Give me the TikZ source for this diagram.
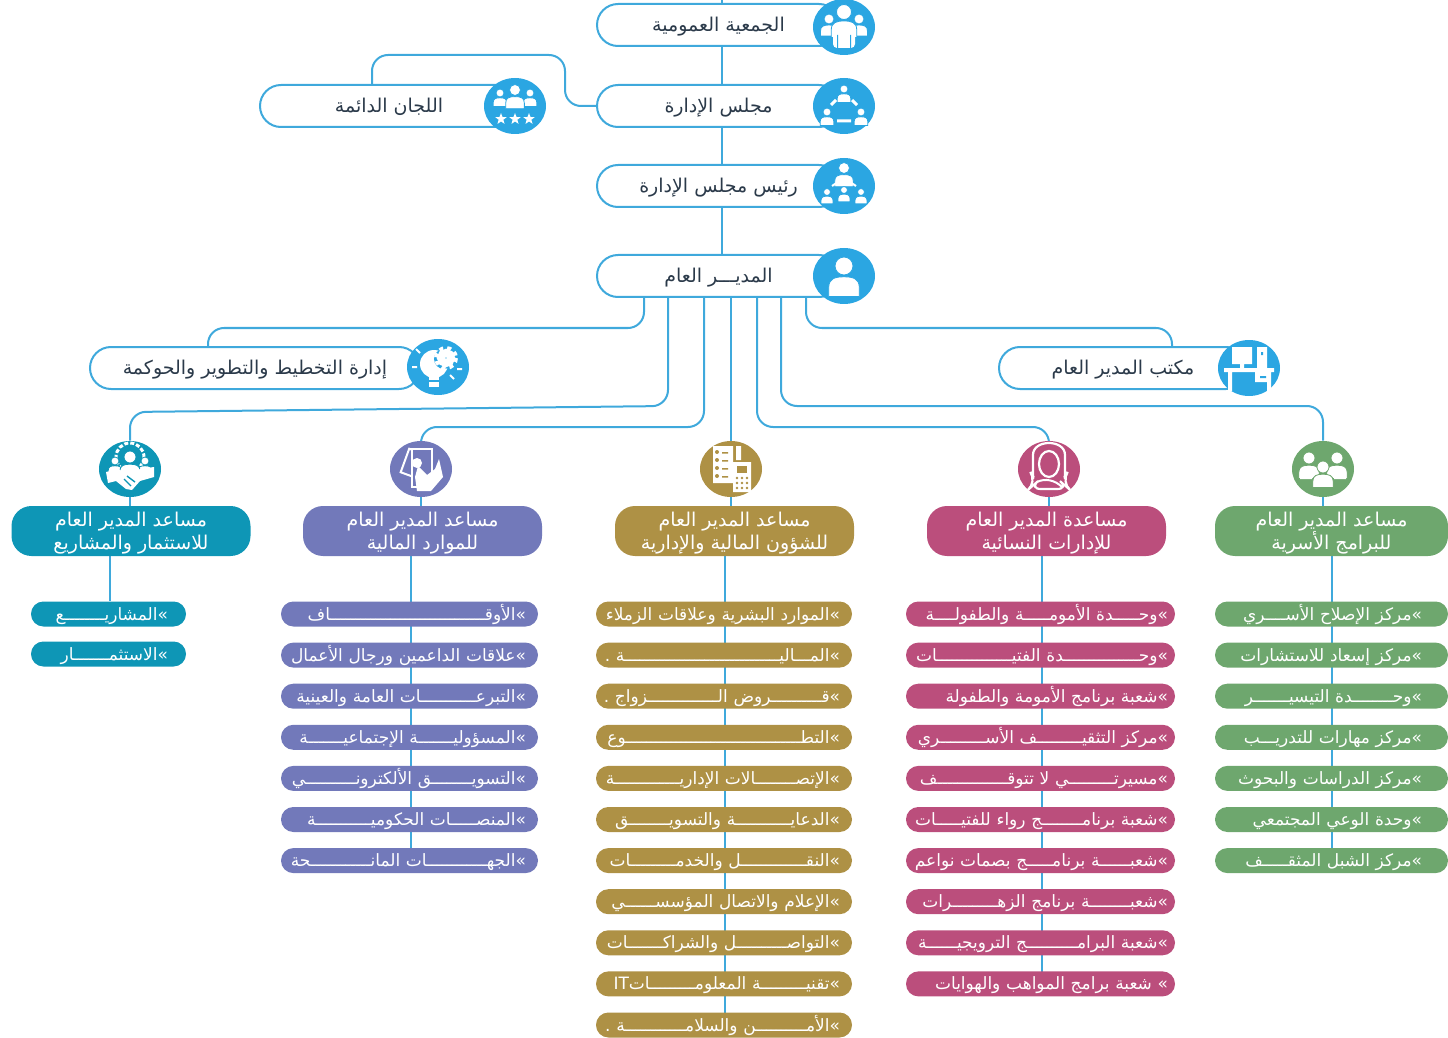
\documentclass[tikz,border=0pt]{standalone}
\usepackage{fontspec}
\usetikzlibrary{shapes.geometric,backgrounds}
\newfontfamily\arabicfont[Script=Arabic]{DejaVu Sans}
\TeXXeTstate=1

\definecolor{linkblue}{HTML}{3FA9DC}
\definecolor{ballblue}{HTML}{2BA6E2}
\definecolor{inkdark}{HTML}{2B3A4A}
\definecolor{tealcol}{HTML}{0E96B6}
\definecolor{purplecol}{HTML}{7279BA}
\definecolor{goldcol}{HTML}{AE9145}
\definecolor{pinkcol}{HTML}{BB4E7C}
\definecolor{greencol}{HTML}{6EA76E}

\newcommand{\ar}[1]{\beginR #1\endR}
\newcommand{\arfirst}[1]{\raisebox{0pt}[\dimexpr\height+2pt\relax]{\beginR #1\endR}}
\newcommand{\kash}[1]{\ifnum#1>0 ـ\expandafter\kash\expandafter{\number\numexpr#1-1\expandafter}\fi}
\newcommand{\iconperson}[4]{\filldraw[white,draw=#4,line width=.4pt,shift={(#1,#2)},scale=#3] (0,0) circle (1) (-1.7,3.4) -- (-1.7,2.4) .. controls (-1.7,1.4) and (-1,1.2) .. (0,1.2) .. controls (1,1.2) and (1.7,1.4) .. (1.7,2.4) -- (1.7,3.4) -- cycle;}
\newcommand{\iconstar}[2]{\fill[white,shift={(#1,#2)}] (-90:6) -- (-54:2.5) -- (-18:6) -- (18:2.5) -- (54:6) -- (90:2.5) -- (126:6) -- (162:2.5) -- (198:6) -- (234:2.5) -- cycle;}

\tikzset{
    link/.style={draw=linkblue,line width=1pt,rounded corners=8pt},
    spine/.style={draw=linkblue,line width=1pt},
    toppill/.style={draw=linkblue,line width=1pt,fill=white,rounded corners=10.5pt,minimum height=21pt,inner sep=0pt,text=inkdark,text height=8.5pt,text depth=2pt,font=\arabicfont\fontsize{9.5}{11}\selectfont},
    ball/.style={ellipse,fill=#1,minimum width=31pt,minimum height=28pt,inner sep=0pt},
    headpill/.style={fill=#1,rounded corners=10pt,minimum height=25pt,minimum width=119.5pt,inner sep=0pt,text=white,align=center,font=\arabicfont\fontsize{9.5}{11.5}\selectfont},
    itempill/.style={fill=#1,rounded corners=6.2pt,minimum height=12.5pt,inner ysep=0pt,text=white,align=right,text height=8pt,text depth=2pt,font=\arabicfont\fontsize{8.5}{10}\selectfont},
    crowd/.pic={\iconperson{-15}{-8}{5}{ballblue}\iconperson{15}{-8}{5}{ballblue}\iconperson{0}{-15}{7.5}{ballblue}\fill[white,rounded corners=2pt] (-11,3) rectangle (11,21);\fill[ballblue] (-7,8) rectangle (-6,21) (6,8) rectangle (7,21);},
    boardring/.pic={\iconperson{0}{-17}{4}{ballblue}\iconperson{-17}{6}{4}{ballblue}\iconperson{17}{6}{4}{ballblue}\draw[white,line width=1.5pt] (-8,-6) -- (-13,-1) (8,-6) -- (13,-1) (-7,15) -- (7,15);},
    chairring/.pic={\iconperson{0}{-18}{5.5}{ballblue}\iconperson{-17}{6}{3.5}{ballblue}\iconperson{17}{6}{3.5}{ballblue}\iconperson{0}{4}{3.5}{ballblue}\draw[white,line width=1pt] (-12,0) -- (-6,-4) (12,0) -- (6,-4);},
    single/.pic={\iconperson{0}{-10}{9}{ballblue}},
    committee/.pic={\iconperson{-15}{-13}{4}{ballblue}\iconperson{15}{-13}{4}{ballblue}\iconperson{0}{-16}{5.5}{ballblue}\iconstar{-14}{13}\iconstar{0}{13}\iconstar{14}{13}},
    bulb/.pic={\fill[white] (-4,-3) circle (14);\fill[white] (-9,9) rectangle (1,20);\fill[ballblue] (-9,13) rectangle (1,14.5);\fill[ballblue] (6,-8) circle (10);\draw[white,line width=4pt] (8,-9) circle (5);\draw[white,line width=2pt,dash pattern=on 2pt off 2pt] (8,-9) circle (10);\draw[white,line width=1pt] (-22,-18) -- (-18,-14) (-26,0) -- (-21,0) (16,12) -- (12,8) (24,2) -- (19,2);},
    desk/.pic={\fill[white] (-17,-21) rectangle (3,-4) (-9,-4) rectangle (-5,0) (8,-21) rectangle (18,0) (-25,0) rectangle (25,4) (-21,4) rectangle (-17,23) (6,4) rectangle (22,14) (18,14) rectangle (22,23);\fill[ballblue] (12,-16) rectangle (14,-13) (11,8) rectangle (17,10);},
    shake/.pic={\draw[white,line width=1.5pt,dash pattern=on 2pt off 1pt] (0,-12) circle (14);\iconperson{-15}{-8}{4}{tealcol}\iconperson{15}{-8}{4}{tealcol}\iconperson{0}{-12}{6}{tealcol}\fill[white] (-24,3) -- (-12,0) -- (0,6) -- (10,0) -- (24,-2) -- (24,8) -- (10,12) -- (2,21) -- (-4,20) -- (-14,12) -- (-22,14) -- cycle;\draw[tealcol,line width=.7pt] (-3,7) -- (5,13) (-6,10) -- (1,17);},
    money/.pic={\draw[white,line width=1pt,rotate=-20] (-18,-15) rectangle (-4,10);\fill[purplecol] (-10,-20) rectangle (12,20);\draw[white,line width=1.2pt] (-9,-20) rectangle (11,18);\fill[white] (-4,-6) circle (5);\fill[white] (-6,8) -- (-3,-3) -- (6,6) -- (14,0) -- (18,-10) -- (22,8) -- (10,22) -- (-4,22) -- cycle;},
    office/.pic={\fill[white] (-18,-23) rectangle (2,14) (5,-23) rectangle (10,-9) (2,-7) rectangle (20,23);\fill[goldcol] (6,-3) rectangle (16,4);\foreach \cy in {-17,-9,-1,7} {\fill[goldcol] (-14,\cy) circle (2) (-9,\cy) rectangle (-3,{\cy+1.5});}\foreach \cx in {6,11,16} {\foreach \cy in {9,14,19} {\fill[goldcol] (\cx,\cy) circle (1.4);}}},
    hijab/.pic={\draw[white,line width=1.1pt,rounded corners=6pt] (-16,-2) .. controls (-16,-30) and (16,-30) .. (16,-2) .. controls (16,6) and (14,10) .. (12,13) -- (20,20) -- (-20,20) -- (-12,13) .. controls (-14,10) and (-16,6) .. cycle;\draw[white,line width=1.1pt] (0,-5) ellipse (10 and 13);\draw[white,line width=1pt] (-12,13) .. controls (-4,9) and (6,11) .. (13,18);},
    family/.pic={\iconperson{-14}{-11}{6}{greencol}\iconperson{14}{-11}{6}{greencol}\iconperson{0}{-2}{6}{greencol}\fill[white] (-23,9) rectangle (-11,10) (11,9) rectangle (23,10);}
}

\begin{document}
\begin{tikzpicture}[x=0.5pt,y=-0.5pt]

    \useasboundingbox (0,0) rectangle (1448,1038);

    \coordinate (topend) at (722,0);
    \node[toppill,minimum width=121.5pt] (assembly) at (718.5,25) {\ar{الجمعية العمومية}};
    \node[toppill,minimum width=121.5pt] (board) at (718.5,106) {\ar{مجلس الإدارة}};
    \node[toppill,minimum width=121.5pt] (chairman) at (718.5,186) {\ar{رئيس مجلس الإدارة}};
    \node[toppill,minimum width=121.5pt] (manager) at (718.5,276) {\ar{المديـــر العام}};
    \node[toppill,minimum width=129pt] (committees) at (389,106) {\ar{اللجان الدائمة}};
    \node[toppill,minimum width=165pt] (planning) at (255,368) {\ar{إدارة التخطيط والتطوير والحوكمة}};
    \node[toppill,minimum width=124pt] (office) at (1123,368) {\ar{مكتب المدير العام}};

    \node[ball=ballblue] (ballassembly) at (844,27) {};
    \node[ball=ballblue] (ballboard) at (844,106) {};
    \node[ball=ballblue] (ballchairman) at (844,186) {};
    \node[ball=ballblue] (ballmanager) at (844,276) {};
    \node[ball=ballblue] (ballcommittees) at (515,106) {};
    \node[ball=ballblue] (ballplanning) at (438,367) {};
    \node[ball=ballblue] (balloffice) at (1249,368) {};

    \pic at (ballassembly) {crowd};
    \pic at (ballboard) {boardring};
    \pic at (ballchairman) {chairring};
    \pic at (ballmanager) {single};
    \pic at (ballcommittees) {committee};
    \pic at (ballplanning) {bulb};
    \pic at (balloffice) {desk};

    \node[ball=tealcol] (ballinvest) at (130,469) {};
    \node[ball=purplecol] (ballfunds) at (421,469) {};
    \node[ball=goldcol] (ballaffairs) at (731,469) {};
    \node[ball=pinkcol] (ballwomen) at (1049,469) {};
    \node[ball=greencol] (ballfamily) at (1323,469) {};

    \pic at (ballinvest) {shake};
    \pic at (ballfunds) {money};
    \pic at (ballaffairs) {office};
    \pic at (ballwomen) {hijab};
    \pic at (ballfamily) {family};

    \node[headpill=tealcol] (invest) at (131,531) {\arfirst{مساعد المدير العام}\\\ar{للاستثمار والمشاريع}};
    \node[headpill=purplecol] (funds) at (422.5,531) {\arfirst{مساعد المدير العام}\\\ar{للموارد المالية}};
    \node[headpill=goldcol] (affairs) at (734.5,531) {\arfirst{مساعد المدير العام}\\\ar{للشؤون المالية والإدارية}};
    \node[headpill=pinkcol] (women) at (1046.5,531) {\arfirst{مساعدة المدير العام}\\\ar{للإدارات النسائية}};
    \node[headpill=greencol,minimum width=116.5pt] (family) at (1331.5,531) {\arfirst{مساعد المدير العام}\\\ar{للبرامج الأسرية}};

    \foreach \i/\txt in {1/»المشاري\kash{8}ع,2/»الاستثم\kash{7}ار} {
        \node[itempill=tealcol,inner xsep=9pt,text width=59.5pt] (investitem\i) at (108.5,{614+40*(\i-1)}) {\hbox to \hsize{\hss\ar{\txt}}};
    }

    \foreach \i/\txt in {1/»الأوق\kash{31}اف,2/»علاقات الداعمين ورجال الأعمال,3/»التبرع\kash{11}ات العامة والعينية,4/»المسؤولي\kash{7}ة الإجتماعي\kash{7}ة,5/»التسوي\kash{8}ق الألكترون\kash{10}ي,6/»المنص\kash{5}ات الحكومي\kash{11}ة,7/»الجه\kash{12}ات المان\kash{12}حة} {
        \node[itempill=purplecol,inner xsep=6pt,text width=116.5pt] (funditem\i) at (409.5,{614+41.1*(\i-1)}) {\hbox to \hsize{\hss\ar{\txt}}};
    }

    \foreach \i/\txt in {1/»الموارد البشرية وعلاقات الزملاء,2/»الم\kash{3}الي\kash{31}ة .,3/»ق\kash{10}روض ال\kash{14}زواج .,4/»التط\kash{35}وع,5/»الإتص\kash{8}الات الإداري\kash{13}ة,6/»الدعاي\kash{11}ة والتسوي\kash{8}ق,7/»النق\kash{13}ل والخدم\kash{9}ات,8/»الإعلام والاتصال المؤسس\kash{6}ي,9/»التواص\kash{10}ل والشراك\kash{7}ات,10/»تقني\kash{9}ة المعلوم\kash{9}ات\beginL IT\endL{},11/»الأم\kash{10}ن والسلام\kash{12}ة .} {
        \node[itempill=goldcol,inner xsep=6pt,text width=116pt] (affairitem\i) at (724,{614+41.1*(\i-1)}) {\hbox to \hsize{\hss\ar{\txt}}};
    }

    \foreach \i/\txt in {1/»وح\kash{5}دة الأموم\kash{5}ة والطفول\kash{4}ة,2/»وح\kash{15}دة الفتي\kash{15}ات,3/»شعبة برنامج الأمومة والطفولة,4/»مركز التثقي\kash{9}ف الأس\kash{9}ري,5/»مسيرت\kash{9}ي لا تتوق\kash{14}ف,6/»شعبة برنام\kash{8}ج رواء للفتي\kash{5}ات,7/»شعب\kash{6}ة برنام\kash{5}ج بصمات نواعم,8/»شعب\kash{8}ة برنامج الزه\kash{9}رات,9/»شعبة البرام\kash{10}ج الترويجي\kash{6}ة,10/» شعبة برامج المواهب والهوايات} {
        \node[itempill=pinkcol,inner xsep=3.5pt,text width=127.5pt] (womenitem\i) at (1040.5,{614+41.1*(\i-1)}) {\hbox to \hsize{\hss\ar{\txt}}};
    }

    \foreach \i/\txt in {1/»مركز الإصلاح  الأس\kash{4}ري,2/»مركز إسعاد للاستشارات,3/»وح\kash{8}دة التيسي\kash{7}ر,4/»مركز مهارات للتدري\kash{3}ب,5/»مركز الدراسات والبحوث,6/»وحدة الوعي المجتمعي,7/»مركز الشبل المثق\kash{5}ف} {
        \node[itempill=greencol,inner xsep=13pt,text width=90.5pt] (familyitem\i) at (1331.5,{614+41.1*(\i-1)}) {\hbox to \hsize{\hss\ar{\txt}}};
    }

    \coordinate (committeestop) at (372,85);
    \coordinate (planningtop) at (208,347);
    \coordinate (officetop) at (1172,347);
    \coordinate (drop1) at (644,297);
    \coordinate (drop2) at (668,297);
    \coordinate (drop3) at (704,297);
    \coordinate (drop4) at (731,297);
    \coordinate (drop5) at (757,297);
    \coordinate (drop6) at (781,297);
    \coordinate (drop7) at (806,297);

    \begin{scope}[on background layer]
        \draw[spine] (topend) -- (assembly.north -| topend);
        \draw[spine] (assembly.south -| topend) -- (board.north -| topend);
        \draw[spine] (board.south -| topend) -- (chairman.north -| topend);
        \draw[spine] (chairman.south -| topend) -- (manager.north -| topend);
        \draw[link] (board.west) -- (565,106) -- (565,55) -- (372,55) -- (committeestop);

        \draw[link] (drop1) -- (644,328) -- (208,328) -- (planningtop);
        \draw[link] (drop2) -- (668,406) -- (130,412) -- (ballinvest.north);
        \draw[link] (drop3) -- (704,427) -- (421,427) -- (ballfunds.north);
        \draw[spine] (drop4) -- (ballaffairs.north);
        \draw[link] (drop5) -- (757,427) -- (1049,427) -- (ballwomen.north);
        \draw[link] (drop6) -- (781,406) -- (1323,406) -- (ballfamily.north);
        \draw[link] (drop7) -- (806,328) -- (1172,328) -- (officetop);

        \draw[spine] (ballinvest.south) -- (invest.north -| ballinvest);
        \draw[spine] (ballfunds.south) -- (funds.north -| ballfunds);
        \draw[spine] (ballaffairs.south) -- (affairs.north -| ballaffairs);
        \draw[spine] (ballwomen.south) -- (women.north -| ballwomen);
        \draw[spine] (ballfamily.south) -- (family.north -| ballfamily);

        \draw[spine] (invest.south -| 110,0) -- (investitem1.north -| 110,0);
        \draw[spine] (funds.south -| 411,0) -- (funditem7 -| 411,0);
        \draw[spine] (affairs.south -| 725,0) -- (affairitem11 -| 725,0);
        \draw[spine] (women.south -| 1042,0) -- (womenitem10 -| 1042,0);
        \draw[spine] (family.south -| 1332,0) -- (familyitem7 -| 1332,0);
    \end{scope}

\end{tikzpicture}
\end{document}
